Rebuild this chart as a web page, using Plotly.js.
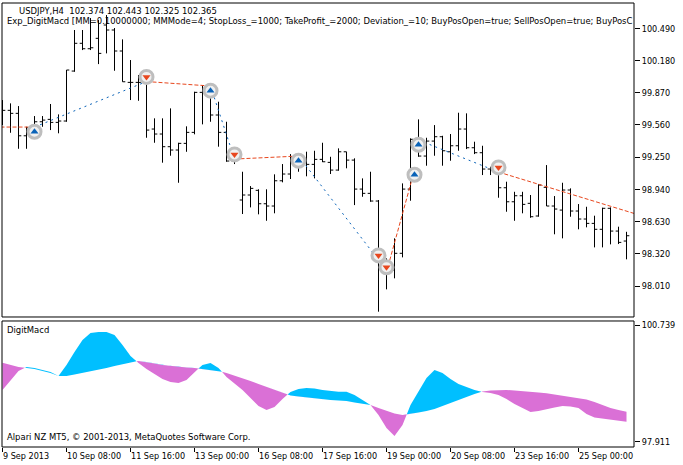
<!DOCTYPE html>
<html>
<head>
<meta charset="utf-8">
<script src="https://cdn.plot.ly/plotly-3.0.1.min.js"></script>
<style>html,body{margin:0;padding:0;background:#fff;}#chart{width:683px;height:465px;}</style>
</head>
<body>
<div id="chart"></div>
<script>
// ---------- DATA ----------
const tickBars = [0, 8, 16, 24, 32, 40, 48, 56, 64, 72];
const tickLabels = ['9 Sep 2013', '10 Sep 08:00', '11 Sep 16:00', '13 Sep 00:00', '16 Sep 08:00',
  '17 Sep 16:00', '19 Sep 00:00', '20 Sep 08:00', '23 Sep 16:00', '25 Sep 00:00'];

const priceTicks = [98.010, 98.320, 98.630, 98.940, 99.250, 99.560, 99.870, 100.180, 100.490];
const indTicks = [97.911, 100.739];

const open = [99.752, 99.701, 99.672, 99.456, 99.533, 99.591, 99.614, 99.585, 99.598, 100.079,
  100.346, 100.294, 100.394, 100.522, 100.474, 100.272, 99.970, 99.970, 100.024, 99.521,
  99.473, 99.351, 99.319, 99.383, 99.489, 99.874, 99.877, 99.656, 99.489, 99.213,
  98.838, 98.886, 98.931, 98.802, 98.780, 99.023, 99.088, 99.251, 99.206, 99.181,
  99.229, 99.200, 99.126, 99.302, 99.222, 98.943, 98.902, 98.828, 98.164, 98.164,
  98.325, 98.943, 99.422, 99.261, 99.405, 99.447, 99.302, 99.360, 99.521, 99.341,
  99.293, 99.136, 99.126, 98.956, 98.821, 98.879, 98.806, 98.684, 98.960, 98.780,
  98.741, 98.934, 98.732, 98.655, 98.613, 98.556, 98.758, 98.539, 98.443];
const high = [99.800, 99.768, 99.742, 99.543, 99.646, 99.646, 99.762, 99.662, 100.089, 100.474,
  100.474, 100.589, 100.570, 100.618, 100.493, 100.384, 100.185, 100.041, 100.041, 99.624,
  99.624, 99.720, 99.389, 99.547, 99.880, 99.944, 99.961, 99.784, 99.591, 99.303,
  99.110, 98.972, 98.941, 98.941, 99.085, 99.184, 99.280, 99.280, 99.303, 99.312,
  99.389, 99.254, 99.335, 99.302, 99.239, 99.046, 99.110, 98.838, 98.276, 98.469,
  98.998, 99.431, 99.614, 99.437, 99.559, 99.456, 99.473, 99.678, 99.672, 99.399,
  99.360, 99.158, 99.206, 99.014, 98.917, 98.917, 98.886, 98.989, 99.174, 98.876,
  99.004, 98.950, 98.799, 98.773, 98.687, 98.764, 98.767, 98.581, 98.532];
const low = [99.559, 99.485, 99.331, 99.331, 99.447, 99.543, 99.511, 99.480, 99.591, 100.072,
  100.281, 100.281, 100.146, 100.249, 100.082, 99.976, 99.800, 99.793, 99.437, 99.389,
  99.197, 99.264, 99.004, 99.302, 99.470, 99.566, 99.591, 99.351, 99.206, 99.184,
  98.703, 98.767, 98.700, 98.638, 98.710, 99.008, 99.040, 99.110, 99.066, 99.046,
  99.203, 99.088, 99.120, 99.143, 98.789, 98.869, 98.821, 97.763, 97.978, 98.084,
  98.286, 98.831, 99.254, 99.168, 99.264, 99.168, 99.216, 99.312, 99.328, 99.280,
  99.078, 99.078, 98.860, 98.725, 98.638, 98.710, 98.667, 98.677, 98.780, 98.508,
  98.469, 98.677, 98.556, 98.575, 98.382, 98.382, 98.411, 98.414, 98.267];
const close = [99.701, 99.672, 99.456, 99.533, 99.591, 99.607, 99.585, 99.598, 100.089, 100.346,
  100.294, 100.303, 100.249, 100.474, 100.272, 99.976, 99.970, 99.970, 99.511, 99.473,
  99.351, 99.319, 99.383, 99.489, 99.874, 99.877, 99.656, 99.489, 99.213, 99.239,
  98.886, 98.950, 98.802, 98.780, 99.023, 99.088, 99.251, 99.206, 99.181, 99.229,
  99.206, 99.126, 99.302, 99.222, 98.943, 98.902, 98.828, 98.308, 98.164, 98.325,
  98.943, 99.422, 99.261, 99.405, 99.447, 99.312, 99.360, 99.521, 99.341, 99.293,
  99.136, 99.126, 98.956, 98.821, 98.879, 98.796, 98.677, 98.982, 98.780, 98.751,
  98.934, 98.732, 98.655, 98.613, 98.556, 98.758, 98.539, 98.430, 98.494];

// DigitMacd: fast and slow lines
const macdFast = [99.168, 99.410, 99.627, 99.724, 99.700, 99.651, 99.603, 99.506, 99.772, 100.086,
  100.376, 100.546, 100.570, 100.570, 100.497, 100.256, 99.990, 99.821, 99.676, 99.555,
  99.434, 99.361, 99.337, 99.410, 99.603, 99.772, 99.821, 99.700, 99.482, 99.313,
  99.168, 98.975, 98.781, 98.684, 98.757, 98.950, 99.120, 99.192, 99.216, 99.204,
  99.168, 99.144, 99.127, 99.127, 99.047, 98.926, 98.805, 98.564, 98.249, 98.056,
  98.322, 98.805, 99.120, 99.458, 99.651, 99.579, 99.434, 99.313, 99.240, 99.168,
  99.120, 99.095, 99.047, 98.950, 98.830, 98.733, 98.636, 98.660, 98.709, 98.745,
  98.781, 98.769, 98.733, 98.588, 98.503, 98.479, 98.455, 98.431, 98.402];
const macdSlow = [99.828, 99.772, 99.724, 99.700, 99.676, 99.627, 99.579, 99.506, 99.506, 99.543,
  99.579, 99.615, 99.651, 99.700, 99.748, 99.796, 99.845, 99.869, 99.845, 99.808,
  99.772, 99.748, 99.724, 99.712, 99.700, 99.676, 99.651, 99.627, 99.579, 99.518,
  99.458, 99.385, 99.313, 99.240, 99.168, 99.095, 99.035, 99.011, 98.987, 98.962,
  98.938, 98.926, 98.914, 98.902, 98.866, 98.842, 98.805, 98.733, 98.660, 98.600,
  98.564, 98.588, 98.624, 98.660, 98.709, 98.781, 98.854, 98.938, 98.999, 99.071,
  99.132, 99.156, 99.168, 99.168, 99.156, 99.144, 99.120, 99.108, 99.088, 99.059,
  99.035, 99.011, 98.975, 98.938, 98.878, 98.805, 98.733, 98.684, 98.643];

// Trade deals (arrows)
const dealBar = [4, 18, 26, 29, 37, 47, 48, 51.5, 52, 62];
const dealType = ['buy', 'sell', 'buy', 'sell', 'buy', 'sell', 'sell', 'buy', 'buy', 'sell'];
const dealPrice = [99.540, 99.978, 99.935, 99.232, 99.261, 98.260, 98.145, 99.126, 99.415, 99.107];

// Positions (open -> close lines)
const posType = ['sell', 'buy', 'sell', 'buy', 'sell', 'buy', 'sell', 'buy', 'sell'];
const posOpenBar = [-1, 4, 18, 26, 29, 37, 48, 52, 62];
const posOpenPrice = [99.540, 99.540, 99.978, 99.935, 99.232, 99.261, 98.145, 99.415, 99.107];
const posCloseBar = [4, 18, 26, 29, 37, 47, 51.5, 62, 80];
const posClosePrice = [99.540, 99.978, 99.935, 99.232, 99.261, 98.260, 99.126, 99.107, 98.684];

// ---------- BUILD ----------
const FONT = 'DejaVu Sans Condensed, Liberation Sans, sans-serif';
const barIdx = open.map((_, i) => i);
const RED = '#E8471E', BLUE = '#0A63B8';

const traces = [];
traces.push({
  type: 'ohlc', x: barIdx, open: open, high: high, low: low, close: close,
  xaxis: 'x', yaxis: 'y', tickwidth: 0.35, hoverinfo: 'skip',
  increasing: {line: {color: '#000', width: 1}},
  decreasing: {line: {color: '#000', width: 1}}
});

// position lines
for (let i = 0; i < posType.length; i++) {
  const isBuy = posType[i] === 'buy';
  traces.push({
    type: 'scatter', mode: 'lines', x: [posOpenBar[i], posCloseBar[i]],
    y: [posOpenPrice[i], posClosePrice[i]], xaxis: 'x', yaxis: 'y', hoverinfo: 'skip',
    line: {color: isBuy ? BLUE : RED, width: 1, dash: isBuy ? '2px,4px' : '4px,2px'}
  });
}

// deal markers
const ARROW_OFS = 0.045;
const mx = dealBar, my = dealPrice.map((p, i) => dealType[i] === 'buy' ? p - ARROW_OFS : p + ARROW_OFS);
traces.push({
  type: 'scatter', mode: 'markers', x: mx, y: my, xaxis: 'x', yaxis: 'y', hoverinfo: 'skip',
  marker: {symbol: 'circle', size: 13, color: '#F0F0F0', line: {color: '#BEBEBE', width: 3}}
});
traces.push({
  type: 'scatter', mode: 'markers', x: mx, y: my, xaxis: 'x', yaxis: 'y', hoverinfo: 'skip',
  marker: {
    symbol: dealType.map(t => t === 'buy' ? 'triangle-up' : 'triangle-down'), size: 7,
    color: dealType.map(t => t === 'buy' ? BLUE : RED), line: {width: 0}
  }
});

// indicator fill, with crossing points inserted
const X = [], S = [], UP = [], DN = [];
for (let i = 0; i < macdFast.length; i++) {
  const f = macdFast[i], s = macdSlow[i];
  X.push(i); S.push(s); UP.push(Math.max(f, s)); DN.push(Math.min(f, s));
  if (i < macdFast.length - 1) {
    const d0 = f - s, d1 = macdFast[i + 1] - macdSlow[i + 1];
    if (d0 * d1 < 0) {
      const t = d0 / (d0 - d1);
      const yc = s + t * (macdSlow[i + 1] - s);
      X.push(i + t); S.push(yc); UP.push(yc); DN.push(yc);
    }
  }
}
const base = {type: 'scatter', mode: 'lines', xaxis: 'x', yaxis: 'y2', hoverinfo: 'skip', line: {width: 0}};
traces.push(Object.assign({}, base, {x: X, y: S}));
traces.push(Object.assign({}, base, {x: X, y: UP, fill: 'tonexty', fillcolor: '#00BFFF'}));
traces.push(Object.assign({}, base, {x: X, y: S}));
traces.push(Object.assign({}, base, {x: X, y: DN, fill: 'tonexty', fillcolor: '#DA70D6'}));

const tickFont = {family: FONT, size: 9, color: '#000'};
const textFont = {family: FONT, size: 9.4, color: '#000'};
const MAIN_DOM = [0.2928, 1], IND_DOM = [0, 0.2838];

const layout = {
  width: 683, height: 465,
  margin: {l: 2, r: 49, t: 3, b: 18},
  paper_bgcolor: '#fff', plot_bgcolor: '#fff',
  showlegend: false,
  xaxis: {
    range: [-0.0625, 78.9375], anchor: 'y2', showgrid: false, zeroline: false,
    ticks: 'outside', ticklen: 4, tickcolor: '#000', tickwidth: 1,
    tickvals: tickBars, ticktext: tickLabels, ticklabelposition: 'outside right',
    tickfont: tickFont, rangeslider: {visible: false}, showline: false
  },
  yaxis: {
    domain: MAIN_DOM, range: [97.712, 100.734], side: 'right', anchor: 'x',
    showgrid: false, zeroline: false, ticks: 'outside', ticklen: 5, tickcolor: '#000',
    tickvals: priceTicks, ticktext: priceTicks.map(v => v.toFixed(3)), tickfont: tickFont
  },
  yaxis2: {
    domain: IND_DOM, range: [97.790, 100.836], side: 'right', anchor: 'x',
    showgrid: false, zeroline: false, ticks: 'outside', ticklen: 5, tickcolor: '#000',
    tickvals: indTicks, ticktext: indTicks.map(v => v.toFixed(3)), tickfont: tickFont
  },
  shapes: [
    {type: 'rect', xref: 'paper', yref: 'paper', x0: 0, x1: 1, y0: MAIN_DOM[0], y1: MAIN_DOM[1], line: {color: '#000', width: 1}},
    {type: 'rect', xref: 'paper', yref: 'paper', x0: 0, x1: 1, y0: IND_DOM[0], y1: IND_DOM[1], line: {color: '#000', width: 1}}
  ],
  annotations: [
    {xref: 'paper', yref: 'paper', x: 0.023, y: 0.9842, xanchor: 'left', yanchor: 'middle', showarrow: false,
      text: 'USDJPY,H4\u00A0\u00A0102.374 102.443 102.325 102.365', font: textFont},
    {xref: 'paper', yref: 'paper', x: 0.005, y: 0.9617, xanchor: 'left', yanchor: 'middle', showarrow: false,
      text: 'Exp_DigitMacd [MM=0.10000000; MMMode=4; StopLoss_=1000; TakeProfit_=2000; Deviation_=10; BuyPosOpen=true; SellPosOpen=true; BuyPosC',
      font: textFont},
    {xref: 'paper', yref: 'paper', x: 0.004, y: 0.2646, xanchor: 'left', yanchor: 'middle', showarrow: false,
      text: 'DigitMacd', font: textFont},
    {xref: 'paper', yref: 'paper', x: 0.004, y: 0.0236, xanchor: 'left', yanchor: 'middle', showarrow: false,
      text: 'Alpari NZ MT5, © 2001-2013, MetaQuotes Software Corp.', font: textFont}
  ]
};

Plotly.newPlot('chart', traces, layout, {staticPlot: true, displayModeBar: false});
</script>
</body>
</html>
